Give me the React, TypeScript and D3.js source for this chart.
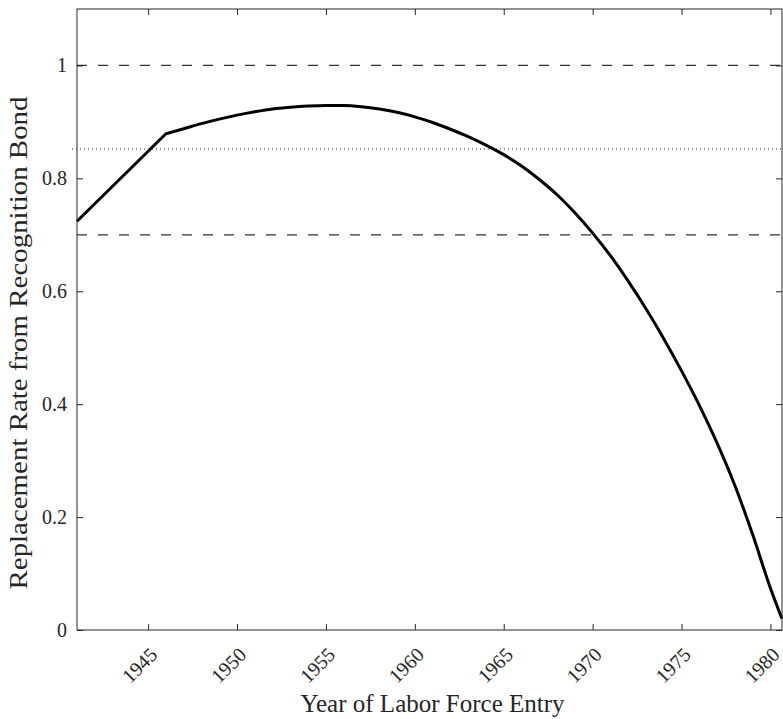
import React, { useEffect, useRef } from "react"
import * as d3 from "d3"

// replacement rate by year of labor force entry
const years = [1941, 1946, 1947, 1948, 1949, 1950, 1951, 1952, 1953, 1954, 1955, 1956, 1957, 1958, 1959, 1960,
  1961, 1962, 1963, 1964, 1965, 1966, 1967, 1968, 1969, 1970, 1971, 1972, 1973, 1974, 1975, 1976, 1977, 1978,
  1979, 1980, 1980.65]
const rates = [0.724, 0.879, 0.888, 0.897, 0.905, 0.912, 0.918, 0.923, 0.926, 0.928, 0.929, 0.929, 0.927, 0.923,
  0.917, 0.909, 0.899, 0.887, 0.874, 0.859, 0.842, 0.822, 0.798, 0.771, 0.739, 0.703, 0.663, 0.618, 0.569, 0.516,
  0.459, 0.398, 0.331, 0.256, 0.169, 0.074, 0.020]
const kinkYear = 1946

const dashedLevels = [1, 0.7]
const dottedLevel = 0.852

const xTicks = [1945, 1950, 1955, 1960, 1965, 1970, 1975, 1980]
const yTicks = [0, 0.2, 0.4, 0.6, 0.8, 1]

const xLabel = "Year of Labor Force Entry"
const yLabel = "Replacement Rate from Recognition Bond"

const width = 783
const height = 719
const margin = { top: 9, left: 77, bottom: 89, right: 1 }
const font = "'Liberation Serif', 'Times New Roman', serif"
const axisColor = "#262626"

export default function App() {
  const ref = useRef<SVGSVGElement>(null)

  useEffect(() => {
    const svg = d3.select(ref.current)
    svg.selectAll("*").remove()

    const innerWidth = width - margin.left - margin.right
    const innerHeight = height - margin.top - margin.bottom

    const x = d3.scaleLinear().domain([1941, 1980.65]).range([0, innerWidth])
    const y = d3.scaleLinear().domain([0, 1.1]).range([innerHeight, 0])

    const g = svg.append("g").attr("transform", `translate(${margin.left},${margin.top})`)

    // reference lines
    g.selectAll(".dash").data(dashedLevels).enter().append("line")
      .attr("x1", 0).attr("x2", innerWidth)
      .attr("y1", d => y(d)).attr("y2", d => y(d))
      .attr("stroke", "#333").attr("stroke-width", 1.2)
      .attr("stroke-dasharray", "10,11")

    g.append("line")
      .attr("x1", -5).attr("x2", innerWidth)
      .attr("y1", y(dottedLevel)).attr("y2", y(dottedLevel))
      .attr("stroke", "#333").attr("stroke-width", 1)
      .attr("stroke-dasharray", "1,3")

    // curve: straight up to the kink, smooth after it
    const points = years.map((yr, i) => [yr, rates[i]] as [number, number])
    const before = points.filter(p => p[0] <= kinkYear)
    const after = points.filter(p => p[0] >= kinkYear)
    const straight = d3.line<[number, number]>().x(d => x(d[0])).y(d => y(d[1]))
    const smooth = d3.line<[number, number]>().x(d => x(d[0])).y(d => y(d[1])).curve(d3.curveMonotoneX)
    g.append("path")
      .attr("d", (straight(before) ?? "") + (smooth(after) ?? "").replace(/^M/, "L"))
      .attr("fill", "none")
      .attr("stroke", "#000")
      .attr("stroke-width", 3)
      .attr("stroke-linejoin", "miter")

    // axes with inward ticks on every side
    const styleAxis = (sel: d3.Selection<SVGGElement, unknown, null, undefined>) => {
      sel.select(".domain").remove()
      sel.selectAll("line").attr("stroke", axisColor)
      sel.selectAll("text").attr("fill", axisColor).style("font-family", font).style("font-size", "20px")
    }

    const bottom = g.append("g").attr("transform", `translate(0,${innerHeight})`)
      .call(d3.axisBottom(x).tickValues(xTicks).tickFormat(d3.format("d")).tickSizeInner(-6).tickSizeOuter(0))
    styleAxis(bottom)
    bottom.selectAll("text")
      .attr("y", 0).attr("dy", 0)
      .attr("text-anchor", "end")
      .attr("transform", "translate(10,26) rotate(-45)")

    const top = g.append("g")
      .call(d3.axisTop(x).tickValues(xTicks).tickFormat(() => "").tickSizeInner(-6).tickSizeOuter(0))
    styleAxis(top)

    const left = g.append("g")
      .call(d3.axisLeft(y).tickValues(yTicks).tickFormat(d3.format("")).tickSizeInner(-6).tickSizeOuter(0).tickPadding(10))
    styleAxis(left)

    const right = g.append("g").attr("transform", `translate(${innerWidth},0)`)
      .call(d3.axisRight(y).tickValues(yTicks).tickFormat(() => "").tickSizeInner(-6).tickSizeOuter(0))
    styleAxis(right)

    // box
    g.append("rect")
      .attr("width", innerWidth).attr("height", innerHeight)
      .attr("fill", "none").attr("stroke", axisColor).attr("stroke-width", 1)

    // axis titles
    g.append("text")
      .attr("x", innerWidth / 2 + 3).attr("y", innerHeight + 82)
      .attr("text-anchor", "middle")
      .attr("fill", axisColor)
      .style("font-family", font).style("font-size", "25px")
      .text(xLabel)

    g.append("text")
      .attr("transform", `translate(${-50},${343 - margin.top}) rotate(-90)`)
      .attr("text-anchor", "middle")
      .attr("fill", axisColor)
      .attr("textLength", 493)
      .attr("lengthAdjust", "spacingAndGlyphs")
      .style("font-family", font).style("font-size", "25px")
      .text(yLabel)
  }, [])

  return (
    <div style={{ position: "absolute", left: 0, top: 0 }}>
      <svg ref={ref} width={width} height={height} style={{ display: "block", background: "#fff" }} />
    </div>
  )
}
